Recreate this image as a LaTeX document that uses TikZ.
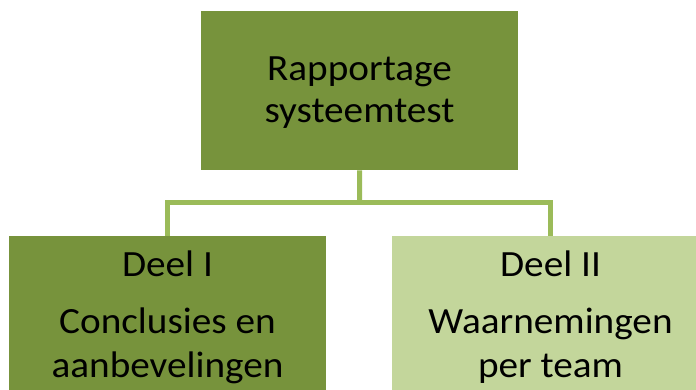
\documentclass[tikz,border=0pt]{standalone}
\usepackage{fontspec}
\setmainfont{Carlito}[FakeStretch=1.06]
\definecolor{dkgreen}{HTML}{77933C}
\definecolor{ltgreen}{HTML}{C3D69B}
\definecolor{lngreen}{HTML}{9BBB59}
\begin{document}
\begin{tikzpicture}[x=1pt,y=-1pt,
  box/.style={rectangle, minimum width=317pt, minimum height=159pt, inner sep=0pt,
    anchor=north west},
  txt/.style={anchor=base, inner sep=0pt, font=\fontsize{37}{44}\selectfont, text=black},
  link/.style={draw=lngreen, line width=5pt, line join=miter}]
\useasboundingbox (0,0) rectangle (696,390);
\clip (0,0) rectangle (696,390);
\fill[white] (0,0) rectangle (696,390);
\node[box, fill=dkgreen] (top) at (201,11) {};
\node[box, fill=dkgreen] (left) at (9,236) {};
\node[box, fill=ltgreen] (right) at (392,236) {};
\node[txt] (t1) at (359.5,81) {Rapportage};
\node[txt] (t2) at (359.5,123) {systeemtest};
\node[txt] (l1) at (167.5,276) {Deel I};
\node[txt] (l2) at (167.5,333) {Conclusies en};
\node[txt] (l3) at (167.5,377) {aanbevelingen};
\node[txt] (r1) at (550.5,276) {Deel II};
\node[txt] (r2) at (550.5,333) {Waarnemingen};
\node[txt] (r3) at (550.5,377) {per team};
\coordinate (mid) at (359.5,203);
\draw[link] (top.south) -- (mid);
\draw[link] (left.north) |- (mid) -| (right.north);
\end{tikzpicture}
\end{document}
